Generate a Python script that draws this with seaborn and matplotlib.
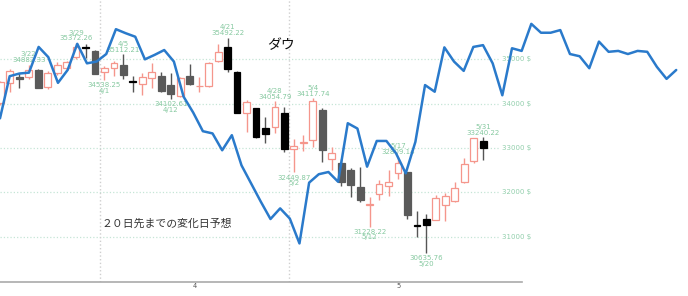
import matplotlib
matplotlib.use("Agg")
import matplotlib.pyplot as plt
import numpy as np
import pandas as pd
import seaborn as sns

# ダウ 日足 (3/17 - 5/31)
dates = ["3/17", "3/18", "3/21", "3/22", "3/23", "3/24", "3/25", "3/28", "3/29", "3/30",
         "3/31", "4/1", "4/4", "4/5", "4/6", "4/7", "4/8", "4/11", "4/12", "4/13",
         "4/14", "4/18", "4/19", "4/20", "4/21", "4/22", "4/25", "4/26", "4/27", "4/28",
         "4/29", "5/2", "5/3", "5/4", "5/5", "5/6", "5/9", "5/10", "5/11", "5/12",
         "5/13", "5/16", "5/17", "5/18", "5/19", "5/20", "5/23", "5/24", "5/25", "5/26",
         "5/27", "5/31"]
opens = [34010, 34472, 34594, 34600, 34750, 34370, 34698, 34797, 35059, 35271,
         35194, 34720, 34797, 34871, 34517, 34436, 34571, 34623, 34420, 34172,
         34623, 34398, 34397, 34962, 35271, 34720, 33781, 33894, 33456, 33465,
         33795, 32982, 33104, 33179, 33856, 32750, 32666, 32502, 32124, 31705,
         31960, 32147, 32427, 32462, 31262, 31411, 31389, 31712, 31809, 32237,
         32711, 33163]
highs = [34520, 34774, 34684, 34882.33, 34780, 34730, 34946, 34960, 35372.26, 35345,
         35216, 34849, 34968, 35112.21, 34623, 34684, 34923, 34720, 34684, 34594,
         34887, 34608, 34940, 35345, 35492.22, 34730, 34081, 33910, 33705, 34054.79,
         33930, 33200, 33291, 34117.74, 33894, 33014, 32742, 32540, 32576, 31899,
         32276, 32501, 32809.14, 32470, 31581, 31508, 31937, 31996, 32237, 32780,
         33225, 33240.22]
lows = [33960, 34269, 34345, 34560, 34350, 34330, 34646, 34760, 35000, 35022,
        34660, 34538.25, 34623, 34549, 34269, 34194, 34345, 34269, 34102.61, 34142,
        34430, 34269, 34380, 34946, 34720, 33780, 33366, 33217, 33104, 33343,
        32915, 32449.87, 32937, 33014, 32689, 32501, 32150, 31900, 31786, 31228.22,
        31840, 31915, 32292, 31400, 30994, 30635.76, 31370, 31357, 31786, 32215,
        32666, 32727]
closes = [34495, 34743, 34549, 34770, 34365, 34700, 34871, 34946, 35271, 35248,
          34668, 34811, 34923, 34646, 34494, 34594, 34720, 34291, 34217, 34571,
          34443, 34410, 34923, 35171, 34774, 33795, 34043, 33240, 33314, 33917,
          32969, 33043, 33140, 34066, 32953, 32892, 32237, 32164, 31824, 31735,
          32179, 32237, 32653, 31484, 31245, 31260, 31885, 31921, 32102, 32637,
          33217, 32991]
gray_days = ["3/21", "3/23", "3/31", "4/5", "4/11", "4/12", "4/14", "5/5",
             "5/9", "5/10", "5/11", "5/18"]

high_marks = ["3/22", "3/29", "4/5", "4/21", "4/28", "5/4", "5/17", "5/31"]
low_marks = ["4/1", "4/12", "5/2", "5/12", "5/20"]

# 20日先までの変化日予想 (same price scale)
forecast = [33670, 34620, 34680, 34700, 35280, 35050, 34470, 34760, 35350, 34910,
            34950, 35120, 35680, 35590, 35510, 35000, 35100, 35210, 34950, 34160,
            33800, 33380, 33330, 32950, 33290, 32610, 32200, 31790, 31400, 31640,
            31410, 30850, 32220, 32410, 32460, 32240, 33560, 33440, 32580, 33160,
            33160, 32880, 32430, 33140, 34420, 34270, 35270, 34950, 34740, 35280,
            35320, 34910, 34190, 35250, 35190, 35800, 35600, 35600, 35660, 35120,
            35070, 34800, 35400, 35170, 35190, 35120, 35190, 35170, 34830, 34560,
            34760]

price_ticks = [31000, 32000, 33000, 34000, 35000]
month_names = ["4", "5"]

df = pd.DataFrame({"date": dates, "open": opens, "high": highs,
                   "low": lows, "close": closes})
df["pos"] = np.arange(len(df))
df["up"] = df["close"] >= df["open"]

sns.set_style("white")
plt.rcParams["font.family"] = ["DejaVu Sans", "Noto Sans CJK JP"]

UP = "#f5968c"
GRAY = "#5a5a5a"
LBL = "#86c9a0"
YMIN, YMAX = 29980, 36338
XMIN, XMAX = -0.03, 72.62

fig = plt.figure(figsize=(6.88, 2.96), dpi=100)
ax = fig.add_axes([0, 14 / 296, 1, 282 / 296])
ax.set_xlim(XMIN, XMAX)
ax.set_ylim(YMIN, YMAX)

# grid + price labels
ax.hlines(price_ticks, XMIN, 52.75, colors="#c5e5d6", linestyles=":", lw=0.9, zorder=0)
for p in price_ticks:
    ax.text(52.95, p, f"{p} $", va="center", ha="left", fontsize=5, color="#92cfac")

# month edges from the dates
mon = df["date"].str.split("/").str[0].astype(int)
edges = list(df["pos"][mon.diff() > 0] - 0.5)
for e in edges:
    ax.axvline(e, color="#cfcfcf", ls=":", lw=1, zorder=0)
june_edge = 53.7
edges_all = edges + [june_edge]
for k, name in enumerate(month_names):
    c = (edges_all[k] + edges_all[k + 1]) / 2
    ax.text(c, -0.014, name, transform=ax.get_xaxis_transform(), ha="center",
            va="center", fontsize=4.8, color="#555555")

# weekly ticks (new week when weekday drops)
wd = pd.to_datetime("2022/" + df["date"], format="%Y/%m/%d").dt.weekday
weeks = list(df["pos"][wd.diff() < 0] - 0.5)

# candles
for r in df.itertuples():
    if r.up:
        ax.vlines(r.pos, r.low, r.high, color=UP, lw=1, zorder=2)
        ax.bar(r.pos, max(r.close - r.open, 12), bottom=r.open, width=0.72,
               facecolor="white", edgecolor=UP, lw=0.9, zorder=3)
    else:
        col = GRAY if r.date in gray_days else "black"
        ax.vlines(r.pos, r.low, r.high, color="#555555", lw=1, zorder=2)
        ax.bar(r.pos, max(r.open - r.close, 12), bottom=r.close, width=0.72,
               facecolor=col, edgecolor=col, lw=0.9, zorder=3)

for d in high_marks:
    r = df[df["date"] == d].iloc[0]
    ax.annotate(f"{d}\n{r['high']:.2f}", (r["pos"], r["high"]), xytext=(0, 1),
                textcoords="offset points", ha="center", va="bottom",
                fontsize=5, color=LBL, linespacing=0.95)
for d in low_marks:
    r = df[df["date"] == d].iloc[0]
    ax.annotate(f"{r['low']:.2f}\n{d}", (r["pos"], r["low"]), xytext=(0, -1.5),
                textcoords="offset points", ha="center", va="top",
                fontsize=5, color=LBL, linespacing=0.95)

# axis styling
for s in ["top", "right", "left"]:
    ax.spines[s].set_visible(False)
ax.spines["bottom"].set_color("#aaaaaa")
ax.spines["bottom"].set_linewidth(1.2)
ax.spines["bottom"].set_bounds(XMIN, 55.1)
ax.set_yticks([])
ax.set_xticks(edges_all)
ax.set_xticklabels([])
ax.set_xticks(weeks, minor=True)
ax.tick_params(axis="x", which="major", length=5, width=1, color="#888888", direction="out")
ax.tick_params(axis="x", which="minor", length=2, width=0.8, color="#f08080", direction="inout")

ax.text(0.408, 0.84, "ダウ", transform=ax.transAxes, ha="center", va="center",
        fontsize=10, family=["Noto Sans CJK JP", "DejaVu Sans"], color="#111111")
ax.text(0.148, 0.208, "２０日先までの変化日予想", transform=ax.transAxes, ha="left",
        va="center", fontsize=7.8, family=["Noto Sans CJK JP", "DejaVu Sans"],
        color="#333333")

# forecast overlay
ax2 = fig.add_axes([0, 14 / 296, 1, 282 / 296])
ax2.patch.set_visible(False)
sns.lineplot(x=np.arange(len(forecast)), y=forecast, ax=ax2, color="#2a7acb",
             lw=1.8, sort=False)
ax2.set_xlim(0, 71.22)
ax2.set_ylim(YMIN, YMAX)
ax2.axis("off")

fig.savefig("out.png", dpi=100)
